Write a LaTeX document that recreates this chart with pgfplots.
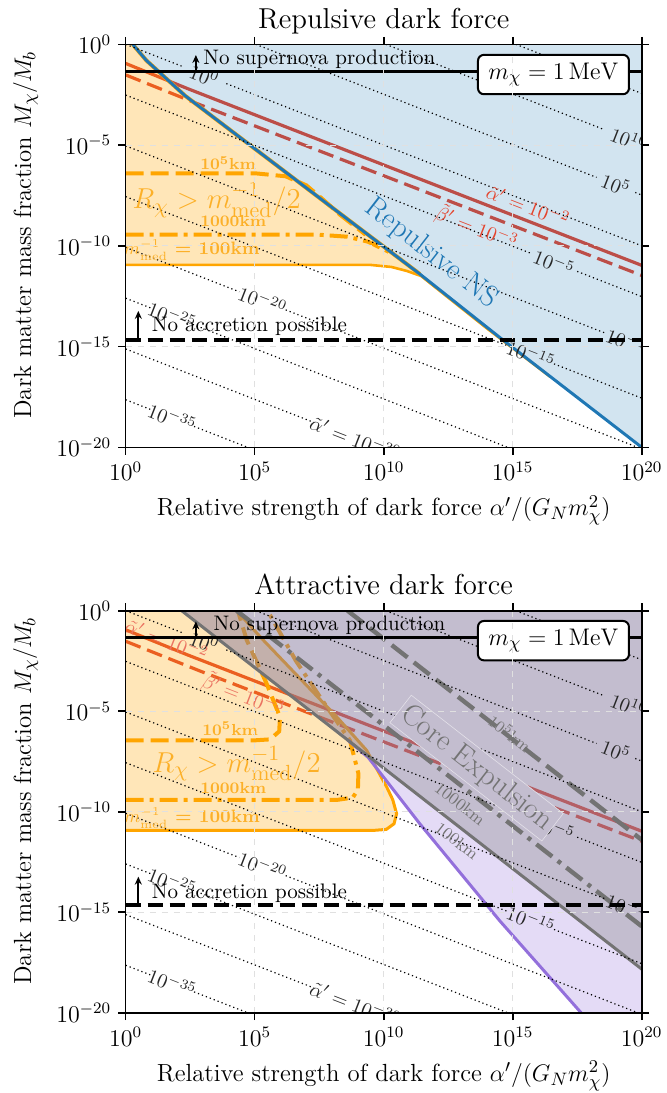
\documentclass[border=0pt]{standalone}
\usepackage{pgfplots}
\pgfplotsset{compat=1.18}
\usetikzlibrary{arrows.meta}

\definecolor{cblue}{RGB}{31,119,180}
\definecolor{corange}{RGB}{255,165,0}
\definecolor{otext}{RGB}{252,176,40}
\definecolor{cred}{RGB}{228,68,45}
\definecolor{cpurple}{RGB}{147,112,219}
\definecolor{cgray}{RGB}{128,128,128}
\definecolor{gline}{RGB}{115,115,115}
\definecolor{corebg}{RGB}{195,189,207}

\tikzset{
  contour/.style={black, line width=0.6pt, dash pattern=on 0.6pt off 1.5pt},
  clabel/.style={font=\fontsize{10}{12}\selectfont, text=black!85, inner sep=0pt, rotate=-21.3},
  rlabel/.style={font=\fontsize{10}{12}\selectfont, text=cred, inner sep=0pt, rotate=-21.3},
  olabel/.style={font=\fontsize{8}{10}\selectfont\bfseries, text=otext, inner sep=0pt},
  glabel/.style={font=\fontsize{8.5}{10}\selectfont, text=gline, inner sep=1pt, rotate=-37.9},
}

\pgfplotsset{
  dmaxis/.style={
    width=258pt, scale only axis,
    xmin=0, xmax=20, ymin=-20, ymax=0,
    xtick={0,5,10,15,20},
    xticklabels={$10^{0}$,$10^{5}$,$10^{10}$,$10^{15}$,$10^{20}$},
    ytick={-20,-15,-10,-5,0},
    yticklabels={$10^{-20}$,$10^{-15}$,$10^{-10}$,$10^{-5}$,$10^{0}$},
    tick align=outside, major tick length=3.75pt,
    every tick/.style={black, line width=0.8pt},
    axis line style={line width=0.8pt},
    grid=major, grid style={dashed, line width=0.4pt, black!12},
    axis on top,
    tick label style={font=\fontsize{12}{14}\selectfont},
    xlabel={Relative strength of dark force $\alpha'/(G_N m_\chi^2)$},
    ylabel={Dark matter mass fraction $M_\chi/M_b$},
    label style={font=\fontsize{12.4}{14}\selectfont},
    xlabel style={at={(axis description cs:0.5,0)}, anchor=base, yshift=-34.3pt},
    ylabel style={at={(axis description cs:-0.1833,0.527)}, anchor=base},
    every axis title/.style={font=\fontsize{14.4}{17}\selectfont, at={(axis description cs:0.5,1)}, anchor=base, yshift=8pt},
  }
}

\newcommand{\redlines}{
  \addplot[cred, line width=1.6pt] coordinates {(0,-0.95) (2.4,-2.2) (20,-10.97)};
  \addplot[cred, line width=1.6pt, dash pattern=on 8pt off 3.5pt] coordinates {(0,-1.52) (2.88,-3.0) (20,-11.47)};
}

\newcommand{\contours}{
  \addplot[contour] coordinates {(15.12,0) (20,-2.44)};
  \addplot[contour] coordinates {(10.08,0) (18.5,-4.21)};
  \addplot[contour] coordinates {(5.04,0) (18.25,-6.605)};
  \addplot[contour] coordinates {(19.75,-7.355) (20,-7.48)};
  \addplot[contour] coordinates {(0,0) (2.2,-1.1)};
  \addplot[contour] coordinates {(3.9,-1.95) (20,-10)};
  \addplot[contour] coordinates {(0,-2.52) (15.7,-10.37)};
  \addplot[contour] coordinates {(17.5,-11.27) (20,-12.52)};
  \addplot[contour] coordinates {(0,-5.04) (18.6,-14.34)};
  \addplot[contour] coordinates {(0,-7.56) (14.8,-14.96)};
  \addplot[contour] coordinates {(16.6,-15.86) (20,-17.56)};
  \addplot[contour] coordinates {(0,-10.08) (4.4,-12.28)};
  \addplot[contour] coordinates {(6.2,-13.18) (19.84,-20)};
  \addplot[contour] coordinates {(0,-12.6) (1.0,-13.1)};
  \addplot[contour] coordinates {(2.6,-13.9) (14.8,-20)};
  \addplot[contour] coordinates {(0,-15.12) (7.3,-18.77)};
  \addplot[contour] coordinates {(0,-17.64) (0.95,-18.115)};
  \addplot[contour] coordinates {(2.65,-18.965) (4.72,-20)};
  \node[clabel] at (axis cs:19.5,-4.71) {$10^{10}$};
  \node[clabel] at (axis cs:19.0,-6.95) {$10^{5}$};
  \node[clabel] at (axis cs:3.05,-1.55) {$10^{0}$};
  \node[clabel] at (axis cs:16.6,-10.85) {$10^{-5}$};
  \node[clabel] at (axis cs:19.55,-14.8) {$10^{-10}$};
  \node[clabel] at (axis cs:15.7,-15.4) {$10^{-15}$};
  \node[clabel] at (axis cs:5.3,-12.72) {$10^{-20}$};
  \node[clabel] at (axis cs:1.8,-13.5) {$10^{-25}$};
  \node[clabel] at (axis cs:8.9,-19.55) {$\tilde{\alpha}' = 10^{-30}$};
  \node[clabel] at (axis cs:1.8,-18.54) {$10^{-35}$};
}

\newcommand{\limitlines}[4]{
  \addplot[black, line width=1.5pt] coordinates {(0,-1.35) (20,-1.35)};
  \addplot[black, line width=2pt, dash pattern=on 7.5pt off 3.5pt] coordinates {(0,-14.65) (20,-14.65)};
  \draw[-{Stealth[length=4pt,width=3.5pt]}, line width=1pt] (axis cs:2.72,-1.35) -- (axis cs:2.72,-0.53);
  \draw[-{Stealth[length=4pt,width=3.5pt]}, line width=1pt] (axis cs:0.49,-14.65) -- (axis cs:0.49,-13.23);
  \node[anchor=base west, inner sep=0pt, font=\fontsize{10.5}{12}\selectfont] at (axis cs:#1,#2) {No supernova production};
  \node[anchor=base west, inner sep=0pt, font=\fontsize{10.5}{12}\selectfont] at (axis cs:1.0,#3) {No accretion possible};
  \node[draw=black, line width=1pt, fill=white, rounded corners=3pt, minimum width=75.5pt, minimum height=19.7pt, inner sep=0pt, font=\fontsize{12.4}{14}\selectfont] at (axis cs:16.58,#4) {$m_\chi = 1\,\mathrm{MeV}$};
}

\begin{document}
\begin{tikzpicture}
% ---------------- Repulsive ----------------
\begin{axis}[dmaxis, height=201.5pt, title={Repulsive dark force}, at={(0,0)}, anchor=south west]
  \redlines
  \addplot[draw=none, fill=corange, fill opacity=0.28] coordinates {(0,0) (0.27,0) (0.8,-0.8) (2.3,-2.55) (4.2,-4.4) (8,-8.1) (11.45,-11.45) (10.9,-11.25) (10.3,-11.05) (9.5,-10.95) (0,-10.95)};
  \addplot[draw=none, fill=cblue, fill opacity=0.2] coordinates {(0.27,0) (0.8,-0.8) (2.3,-2.55) (4.2,-4.4) (8,-8.1) (11.4,-11.4) (14.55,-14.6) (20,-20) (20,0)};
  \addplot[corange, line width=1.3pt] coordinates {(0,-10.95) (9.5,-10.95) (10.3,-11.05) (10.9,-11.25) (11.45,-11.5) (14,-14.1) (16.45,-16.5)};
  \addplot[corange, line width=2pt, dash pattern=on 9pt off 3.5pt] coordinates {(0,-6.4) (5,-6.4) (6.2,-6.55) (7.0,-7.0) (7.6,-7.65) (8.3,-8.45) (9.3,-9.45)};
  \addplot[corange, line width=2pt, dash pattern=on 9pt off 3pt on 2pt off 3pt] coordinates {(0,-9.45) (7.5,-9.45) (8.6,-9.55) (9.4,-9.8) (10.2,-10.3)};
  \addplot[corange, line width=2pt] coordinates {(0.27,0) (0.8,-0.8) (2.3,-2.55) (4.2,-4.4) (8,-8.1) (11.4,-11.4)};
  \addplot[cblue, line width=1.5pt] coordinates {(0.27,0) (0.8,-0.8) (2.3,-2.55) (4.2,-4.4) (8,-8.1) (11.4,-11.4) (14.55,-14.6) (20,-20)};
  \contours
  \node[rlabel] at (axis cs:15.6,-8.0) {$\tilde{\alpha}' = 10^{-2}$};
  \node[rlabel] at (axis cs:13.6,-9.1) {$\tilde{\beta}' = 10^{-3}$};
  \node[text=otext, font=\fontsize{15}{18}\selectfont, inner sep=0pt] at (axis cs:3.53,-7.73) {$R_\chi > m_{\mathrm{med}}^{-1}/2$};
  \node[olabel] at (axis cs:3.97,-5.9) {$\mathbf{10^{5}}$km};
  \node[olabel] at (axis cs:4.17,-8.77) {1000km};
  \node[olabel, font=\fontsize{9}{10}\selectfont\bfseries] at (axis cs:2.56,-10.2) {$m_{\mathrm{med}}^{-1}$ = 100km};
  \node[text=cblue, font=\fontsize{15}{18}\selectfont, rotate=-37.9, inner sep=0pt] at (axis cs:11.85,-10.38) {Repulsive NS};
  \limitlines{3.0}{-1.0}{-14.23}{-1.5}
\end{axis}

% ---------------- Attractive ----------------
\begin{axis}[dmaxis, height=201pt, title={Attractive dark force}, at={(0,-282.7pt)}, anchor=south west]
  \redlines
  \addplot[draw=none, fill=corange, fill opacity=0.28] coordinates {(0,0) (4.3,0) (5.33,-1.46) (8.18,-5.28) (9.34,-6.95) (10.12,-8.78) (10.35,-9.4) (10.5,-10.1) (10.4,-10.6) (10.1,-10.88) (9.6,-10.93) (0,-10.93)};
  \addplot[corange, line width=1.5pt] coordinates {(0,-10.93) (9.6,-10.93) (10.1,-10.88) (10.4,-10.6) (10.5,-10.1) (10.35,-9.4) (10.12,-8.78) (9.34,-6.95) (8.18,-5.28) (5.33,-1.46) (4.3,0)};
  \addplot[corange, line width=2pt, dash pattern=on 9pt off 3.5pt] coordinates {(0,-6.45) (5.0,-6.45) (5.6,-6.4) (5.95,-6.0) (5.98,-5.29) (5.46,-3.62) (4.69,-1.46) (4.35,0)};
  \addplot[corange, line width=2pt, dash pattern=on 9pt off 3pt on 2pt off 3pt] coordinates {(0,-9.41) (8.2,-9.41) (8.8,-9.3) (9.0,-8.9) (9.02,-8.1) (8.69,-6.45) (7.53,-4.29) (6.6,-2.5) (5.5,0)};
  \addplot[draw=none, fill=cpurple, fill opacity=0.25] coordinates {(2.17,0) (8.6,-6.43) (9.4,-7.3) (11.4,-10.6) (14.5,-15.43) (17.65,-20) (20,-20) (20,0)};
  \addplot[draw=none, fill=cgray, fill opacity=0.33] coordinates {(2.17,0) (20,-17.83) (20,0)};
  \addplot[cpurple, line width=1.5pt] coordinates {(8.6,-6.43) (9.4,-7.3) (11.4,-10.6) (14.5,-15.43) (17.65,-20)};
  \addplot[gline, line width=1.5pt] coordinates {(2.17,0) (20,-17.83)};
  \addplot[gline, line width=2.2pt, dash pattern=on 10pt off 3.5pt on 2pt off 3.5pt] coordinates {(4.3,0) (20,-15.7)};
  \addplot[gline, line width=2.2pt, dash pattern=on 10pt off 4pt] coordinates {(8.6,0) (20,-11.4)};
  \contours
  \node[rlabel, text=cred!75!white] at (axis cs:1.59,-1.46) {$\tilde{\alpha}' = 10^{-2}$};
  \node[rlabel, text=cred!75!white] at (axis cs:4.56,-4.2) {$\tilde{\beta}' = 10^{-3}$};
  \node[text=otext, font=\fontsize{15}{18}\selectfont, inner sep=0pt] at (axis cs:4.3,-7.6) {$R_\chi > m_{\mathrm{med}}^{-1}/2$};
  \node[olabel] at (axis cs:4.05,-5.86) {$\mathbf{10^{5}}$km};
  \node[olabel] at (axis cs:4.17,-8.8) {1000km};
  \node[olabel, font=\fontsize{9}{10}\selectfont\bfseries] at (axis cs:2.57,-10.3) {$m_{\mathrm{med}}^{-1}$ = 100km};
  \node[glabel] at (axis cs:14.9,-6.1) {$10^{5}$km};
  \node[glabel] at (axis cs:12.96,-9.6) {1000km};
  \node[glabel] at (axis cs:12.84,-11.45) {100km};
  \node[rotate=-37.9, text=gline, font=\fontsize{15}{18}\selectfont, fill=corebg, draw=white!55!corebg, line width=0.3pt, inner sep=2pt] at (axis cs:13.6,-7.83) {Core Expulsion};
  \limitlines{3.39}{-0.97}{-14.3}{-1.49}
\end{axis}
\pgfresetboundingbox
\path[use as bounding box] (-62.85pt,-322.85pt) rectangle (270.15pt,223.65pt);
\end{tikzpicture}
\end{document}
